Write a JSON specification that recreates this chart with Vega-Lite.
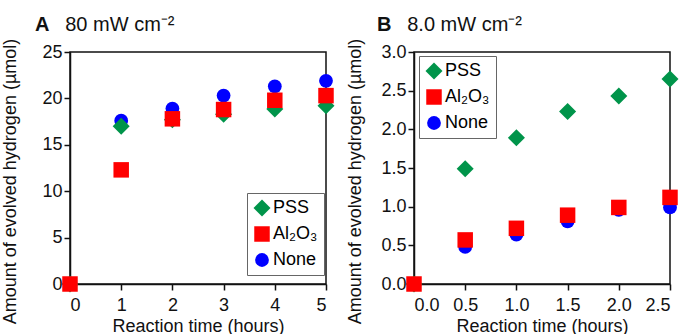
{
  "$schema": "https://vega.github.io/schema/vega-lite/v6.json",
  "autosize": {"type": "none"},
  "padding": {"left": 70, "top": 52, "right": 615, "bottom": 282},
  "background": "white",
  "bounds": "flush",
  "spacing": 88,
  "config": {
    "font": "Liberation Sans",
    "view": {"stroke": "#111", "strokeWidth": 1.5},
    "axis": {"domainColor": "#111", "domainWidth": 1.5, "tickColor": "#111", "tickWidth": 1.5, "tickSize": 6, "labelFont": "Liberation Sans", "labelFontSize": 18, "labelColor": "#111", "labelPadding": 2, "titleFont": "Liberation Sans", "titleFontSize": 18, "titleFontWeight": "normal", "titleColor": "#111", "grid": false},
    "axisX": {"labelPadding": 6, "titlePadding": 3},
    "legend": {"labelFont": "Liberation Sans", "labelFontSize": 18, "strokeColor": "#666", "padding": 6, "rowPadding": 8, "labelOffset": 2, "symbolStrokeWidth": 0},
    "title": {"font": "Liberation Sans", "fontSize": 20, "fontWeight": "bold", "color": "#111", "subtitleFont": "Liberation Sans", "subtitleFontSize": 20, "subtitleColor": "#111", "subtitleFontWeight": "normal", "anchor": "start", "frame": "group", "baseline": "alphabetic", "subtitlePadding": -20}
  },
  "datasets": {
    "panelA": [
      {"time": 0, "hydrogen": 0, "series": "None"},
      {"time": 1, "hydrogen": 17.6, "series": "None"},
      {"time": 2, "hydrogen": 18.9, "series": "None"},
      {"time": 3, "hydrogen": 20.3, "series": "None"},
      {"time": 4, "hydrogen": 21.3, "series": "None"},
      {"time": 5, "hydrogen": 21.9, "series": "None"},
      {"time": 0, "hydrogen": 0, "series": "PSS"},
      {"time": 1, "hydrogen": 17.0, "series": "PSS"},
      {"time": 2, "hydrogen": 17.7, "series": "PSS"},
      {"time": 3, "hydrogen": 18.3, "series": "PSS"},
      {"time": 4, "hydrogen": 18.85, "series": "PSS"},
      {"time": 5, "hydrogen": 19.2, "series": "PSS"},
      {"time": 0, "hydrogen": 0, "series": "Al₂O₃"},
      {"time": 1, "hydrogen": 12.3, "series": "Al₂O₃"},
      {"time": 2, "hydrogen": 17.8, "series": "Al₂O₃"},
      {"time": 3, "hydrogen": 18.8, "series": "Al₂O₃"},
      {"time": 4, "hydrogen": 19.8, "series": "Al₂O₃"},
      {"time": 5, "hydrogen": 20.3, "series": "Al₂O₃"}
    ],
    "panelB": [
      {"time": 0, "hydrogen": 0, "series": "None"},
      {"time": 0.5, "hydrogen": 0.48, "series": "None"},
      {"time": 1, "hydrogen": 0.64, "series": "None"},
      {"time": 1.5, "hydrogen": 0.81, "series": "None"},
      {"time": 2, "hydrogen": 0.96, "series": "None"},
      {"time": 2.5, "hydrogen": 0.99, "series": "None"},
      {"time": 0, "hydrogen": 0, "series": "PSS"},
      {"time": 0.5, "hydrogen": 1.49, "series": "PSS"},
      {"time": 1, "hydrogen": 1.89, "series": "PSS"},
      {"time": 1.5, "hydrogen": 2.23, "series": "PSS"},
      {"time": 2, "hydrogen": 2.43, "series": "PSS"},
      {"time": 2.5, "hydrogen": 2.65, "series": "PSS"},
      {"time": 0, "hydrogen": 0, "series": "Al₂O₃"},
      {"time": 0.5, "hydrogen": 0.57, "series": "Al₂O₃"},
      {"time": 1, "hydrogen": 0.72, "series": "Al₂O₃"},
      {"time": 1.5, "hydrogen": 0.89, "series": "Al₂O₃"},
      {"time": 2, "hydrogen": 0.99, "series": "Al₂O₃"},
      {"time": 2.5, "hydrogen": 1.12, "series": "Al₂O₃"}
    ]
  },
  "resolve": {"scale": {"color": "independent", "shape": "independent", "size": "independent"}},
  "hconcat": [
    {
      "width": 256,
      "height": 232,
      "title": {"text": "A", "subtitle": "\u200b\u00a0\u00a0\u00a0\u00a0\u2009\u200980 mW cm⁻²", "dx": -35, "offset": 3},
      "data": {"name": "panelA"},
      "mark": {"type": "point", "filled": true, "opacity": 1, "clip": false},
      "encoding": {
        "x": {"field": "time", "type": "quantitative", "scale": {"domain": [0, 5], "nice": false, "zero": false}, "axis": {"values": [0, 1, 2, 3, 4, 5], "title": "Reaction time (hours)"}},
        "y": {"field": "hydrogen", "type": "quantitative", "scale": {"domain": [0, 25], "nice": false}, "axis": {"values": [0, 5, 10, 15, 20, 25], "title": "Amount of evolved hydrogen (µmol)", "titleX": -60, "titleY": 129, "titleBaseline": "middle"}},
        "color": {"field": "series", "type": "nominal", "scale": {"domain": ["PSS", "Al₂O₃", "None"], "range": ["#00944a", "#ff0000", "#0000ff"]},
          "legend": {"title": null, "orient": "none", "legendX": 177, "legendY": 141,
            "encode": {"labels": {"update": {"fill": {"signal": "datum.value == 'PSS' ? '#1fa04c' : datum.value == 'None' ? '#0000ff' : '#ff0000'"}}},
                       "symbols": {"update": {"size": {"signal": "datum.value == 'PSS' ? 250 : 160"}}}}}},
        "shape": {"field": "series", "type": "nominal", "scale": {"domain": ["PSS", "Al₂O₃", "None"], "range": ["diamond", "square", "circle"]}},
        "size": {"field": "series", "type": "nominal", "scale": {"domain": ["PSS", "Al₂O₃", "None"], "range": [290, 190, 190]}, "legend": null}
      }
    },
    {
      "width": 256,
      "height": 232,
      "title": {"text": "B", "subtitle": "\u200b\u00a0\u00a0\u00a0\u00a0\u2009\u20098.0 mW cm⁻²", "dx": -37, "offset": 3},
      "data": {"name": "panelB"},
      "mark": {"type": "point", "filled": true, "opacity": 1, "clip": false},
      "encoding": {
        "x": {"field": "time", "type": "quantitative", "scale": {"domain": [0, 2.5], "nice": false, "zero": false}, "axis": {"values": [0, 0.5, 1, 1.5, 2, 2.5], "format": ".1f", "title": "Reaction time (hours)"}},
        "y": {"field": "hydrogen", "type": "quantitative", "scale": {"domain": [0, 3], "nice": false}, "axis": {"values": [0, 0.5, 1, 1.5, 2, 2.5, 3], "format": ".1f", "title": "Amount of evolved hydrogen (µmol)", "titleX": -59, "titleY": 129, "titleBaseline": "middle"}},
        "color": {"field": "series", "type": "nominal", "scale": {"domain": ["PSS", "Al₂O₃", "None"], "range": ["#00944a", "#ff0000", "#0000ff"]},
          "legend": {"title": null, "orient": "none", "legendX": 5, "legendY": 4,
            "encode": {"labels": {"update": {"fill": {"signal": "datum.value == 'PSS' ? '#1fa04c' : datum.value == 'None' ? '#0000ff' : '#ff0000'"}}},
                       "symbols": {"update": {"size": {"signal": "datum.value == 'PSS' ? 250 : 160"}}}}}},
        "shape": {"field": "series", "type": "nominal", "scale": {"domain": ["PSS", "Al₂O₃", "None"], "range": ["diamond", "square", "circle"]}},
        "size": {"field": "series", "type": "nominal", "scale": {"domain": ["PSS", "Al₂O₃", "None"], "range": [290, 190, 190]}, "legend": null}
      }
    }
  ]
}
